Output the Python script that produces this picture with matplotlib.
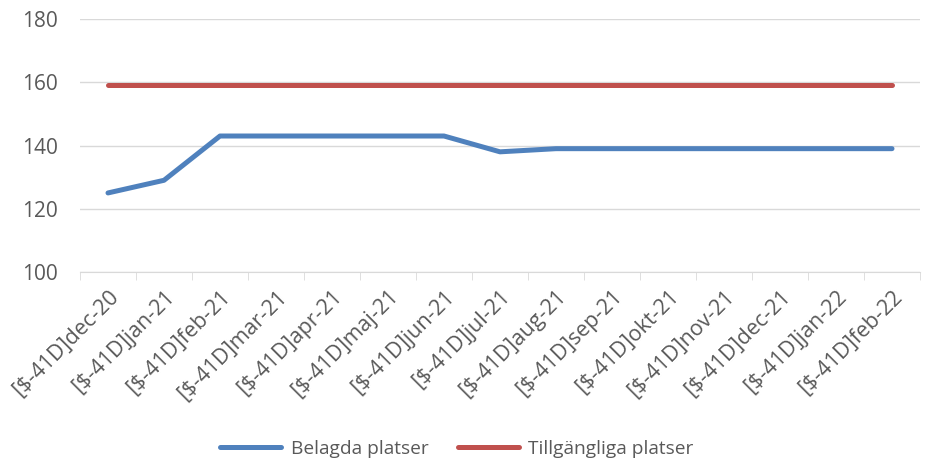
import matplotlib
matplotlib.use("Agg")
import matplotlib.pyplot as plt
import numpy as np

categories = ["[$-41D]dec-20", "[$-41D]jan-21", "[$-41D]feb-21", "[$-41D]mar-21",
              "[$-41D]apr-21", "[$-41D]maj-21", "[$-41D]jun-21", "[$-41D]jul-21",
              "[$-41D]aug-21", "[$-41D]sep-21", "[$-41D]okt-21", "[$-41D]nov-21",
              "[$-41D]dec-21", "[$-41D]jan-22", "[$-41D]feb-22"]
belagda = [125, 129, 143, 143, 143, 143, 143, 138, 139, 139, 139, 139, 139, 139, 139]
tillgangliga = [159] * 15
yticks = [100, 120, 140, 160, 180]

plt.rcParams['font.family'] = ['Open Sans', 'DejaVu Sans']
txt = '#595959'

fig = plt.figure(figsize=(9.25, 4.63), dpi=100)
ax = fig.add_axes([80/925, 1-272/463, (920-80)/925, (272-19)/463])

x = np.arange(len(categories))
ax.plot(x, belagda, color='#4f81bd', lw=3.6, solid_capstyle='round', label='Belagda platser', zorder=3)
ax.plot(x, tillgangliga, color='#c0504d', lw=3.6, solid_capstyle='round', label='Tillgängliga platser', zorder=3)

ax.set_xlim(-0.5, len(categories) - 0.5)
ax.set_ylim(100, 180)
ax.set_yticks(yticks)
ax.yaxis.grid(True, color='#d9d9d9', lw=1)
ax.set_axisbelow(True)
for s in ['top', 'right', 'left']:
    ax.spines[s].set_visible(False)
ax.spines['bottom'].set_color('#d9d9d9')
ax.tick_params(axis='y', length=0, labelsize=15, labelcolor=txt, pad=16)

ax.set_xticks(x)
ax.set_xticklabels(categories, rotation=45, ha='right', rotation_mode='anchor', fontsize=15.5, color=txt)
ax.tick_params(axis='x', length=0, pad=10)
ax.set_xticks(np.arange(-0.5, len(categories)), minor=True)
ax.tick_params(axis='x', which='minor', length=6, color='#d9d9d9', direction='out')

fig.legend(loc='center', bbox_to_anchor=(457/925, 1-449/463), ncol=2, frameon=False,
           fontsize=13.8, labelcolor=txt, handlelength=3.2, handletextpad=0.5, columnspacing=1.5)

fig.savefig('out.png', dpi=100)
